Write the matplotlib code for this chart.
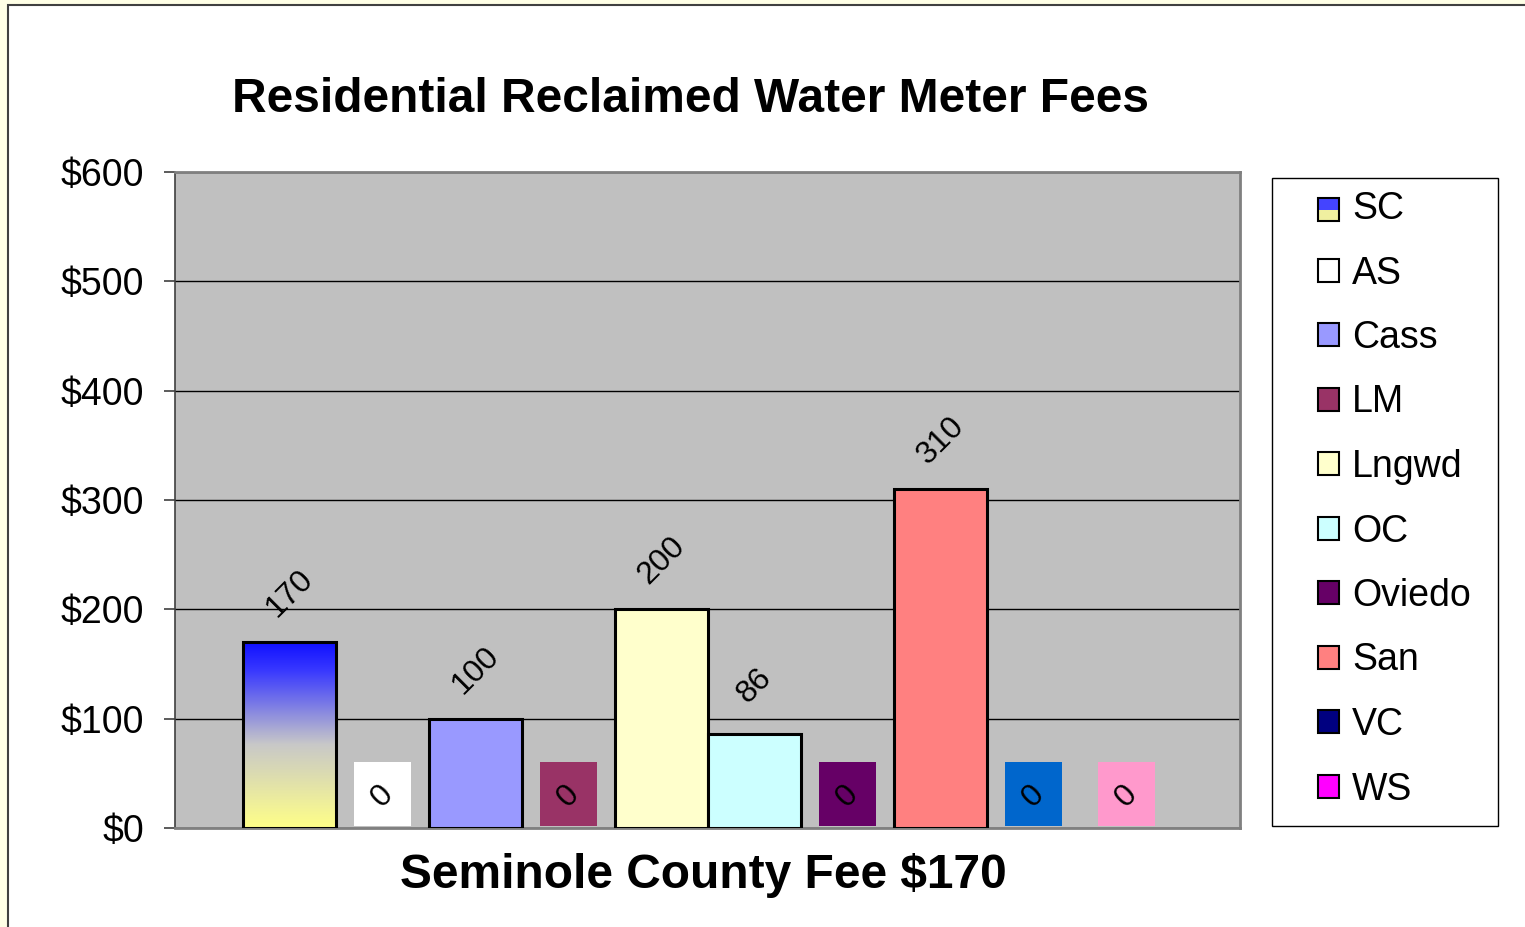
import matplotlib.pyplot as plt
import numpy as np
from matplotlib.colors import LinearSegmentedColormap
from matplotlib.patches import Rectangle
from matplotlib.legend_handler import HandlerBase

plt.rcParams['font.family'] = ['Liberation Sans', 'DejaVu Sans']

# data
agencies = ['SC', 'AS', 'Cass', 'LM', 'Lngwd', 'OC', 'Oviedo', 'San', 'VC', 'WS']
fees = [170, 0, 100, 0, 200, 86, 0, 310, 0, 0]
bar_colors = ['none', '#FFFFFF', '#9999FF', '#993366', '#FFFFCC',
              '#CCFFFF', '#660066', '#FF8080', '#000080', '#FF00FF']
zero_box_colors = ['#FFFFFF', '#FFFFFF', '#9999FF', '#993366', '#FFFFCC',
                   '#CCFFFF', '#660066', '#FF8080', '#0066CC', '#FF99CC']
yticks = [0, 100, 200, 300, 400, 500, 600]
ytick_labels = ['$0', '$100', '$200', '$300', '$400', '$500', '$600']

grad = LinearSegmentedColormap.from_list(
    'sc', [(0.0, '#FFFF88'), (0.45, '#C8C8C8'), (0.85, '#3838FF'), (1.0, '#1010FF')])

fig = plt.figure(figsize=(15.25, 9.27), dpi=100)
fig.patch.set_facecolor('#FFFFE6')
fig.patches.append(Rectangle((8/1525, -0.01), 1.02, 1 - 5/927 + 0.01,
                             transform=fig.transFigure, facecolor='white',
                             edgecolor='#404040', linewidth=1.5, zorder=-1))

ax = fig.add_axes([175/1525, 1 - 828/927, 1065/1525, 656/927])
ax.set_zorder(1)
ax.set_facecolor('#C0C0C0')

x = np.arange(len(agencies))
lw = [2.2 if v > 0 else 0 for v in fees]
bars = ax.bar(x, fees, width=1.0, color=bar_colors, edgecolor='black',
              linewidth=lw, zorder=3)

# gradient fill for SC
b0 = bars[0]
gimg = np.linspace(0, 1, 256).reshape(-1, 1)
im = ax.imshow(gimg, extent=[b0.get_x(), b0.get_x() + b0.get_width(), 0, fees[0]],
               origin='lower', aspect='auto', cmap=grad, zorder=2.5)
im.set_clip_path(b0)

for i, v in enumerate(fees):
    if v > 0:
        ax.annotate(str(v), (x[i], v), xytext=(0, 35), textcoords='offset points',
                    rotation=45, ha='center', va='center', fontsize=23, zorder=5)
    else:
        ax.add_patch(Rectangle((x[i] - 0.31, 2), 0.62, 58,
                               facecolor=zero_box_colors[i], edgecolor='none', zorder=3))
        ax.text(x[i], 29, '0', rotation=45, ha='center', va='center',
                fontsize=23, zorder=5)

ax.set_xlim(-1.23, 10.22)
ax.set_ylim(0, 600)
ax.set_yticks(yticks)
ax.set_yticklabels(ytick_labels, fontsize=27)
ax.set_xticks([])
ax.yaxis.grid(True, color='black', linewidth=1.0)
ax.set_axisbelow(True)
ax.tick_params(axis='y', length=8, width=1.2, color='#404040', pad=14)
for s in ax.spines.values():
    s.set_color('#808080')
    s.set_linewidth(2)
ax.spines['left'].set_color('#404040')
ax.spines['left'].set_linewidth(1.2)

fig.text(690/1525, 1 - 100/927, 'Residential Reclaimed Water Meter Fees',
         ha='center', va='center', fontsize=34.5, fontweight='bold')
fig.text(703/1525, 1 - 876/927, 'Seminole County Fee $170',
         ha='center', va='center', fontsize=34.5, fontweight='bold')


class GradHandler(HandlerBase):
    def create_artists(self, legend, orig, xd, yd, w, h, fontsize, trans):
        top = Rectangle((xd, yd + h / 2), w, h / 2, facecolor='#4444FF',
                        edgecolor='none', transform=trans)
        bot = Rectangle((xd, yd), w, h / 2, facecolor='#F0F0A0',
                        edgecolor='none', transform=trans)
        frame = Rectangle((xd, yd), w, h, facecolor='none', edgecolor='black',
                          linewidth=1.5, transform=trans)
        return [top, bot, frame]


# legend frame
fig.patches.append(Rectangle((1272/1525, 1 - 826/927), 226/1525, 648/927,
                             transform=fig.transFigure, facecolor='white',
                             edgecolor='black', linewidth=1.0, zorder=2))
legend_colors = ['#8080C0'] + bar_colors[1:]
handles = [Rectangle((0, 0), 1, 1, facecolor=c, edgecolor='black', linewidth=1.5)
           for c in legend_colors]
leg = fig.legend(handles, agencies, loc='upper left',
                 bbox_to_anchor=(1318/1525, 1 - 191/927), fontsize=27,
                 frameon=False, handlelength=0.55, handleheight=0.55,
                 handletextpad=0.36, labelspacing=0.76, borderpad=0,
                 borderaxespad=0, handler_map={handles[0]: GradHandler()})
leg.set_zorder(3)

plt.savefig('out.png', dpi=100, facecolor=fig.get_facecolor())
